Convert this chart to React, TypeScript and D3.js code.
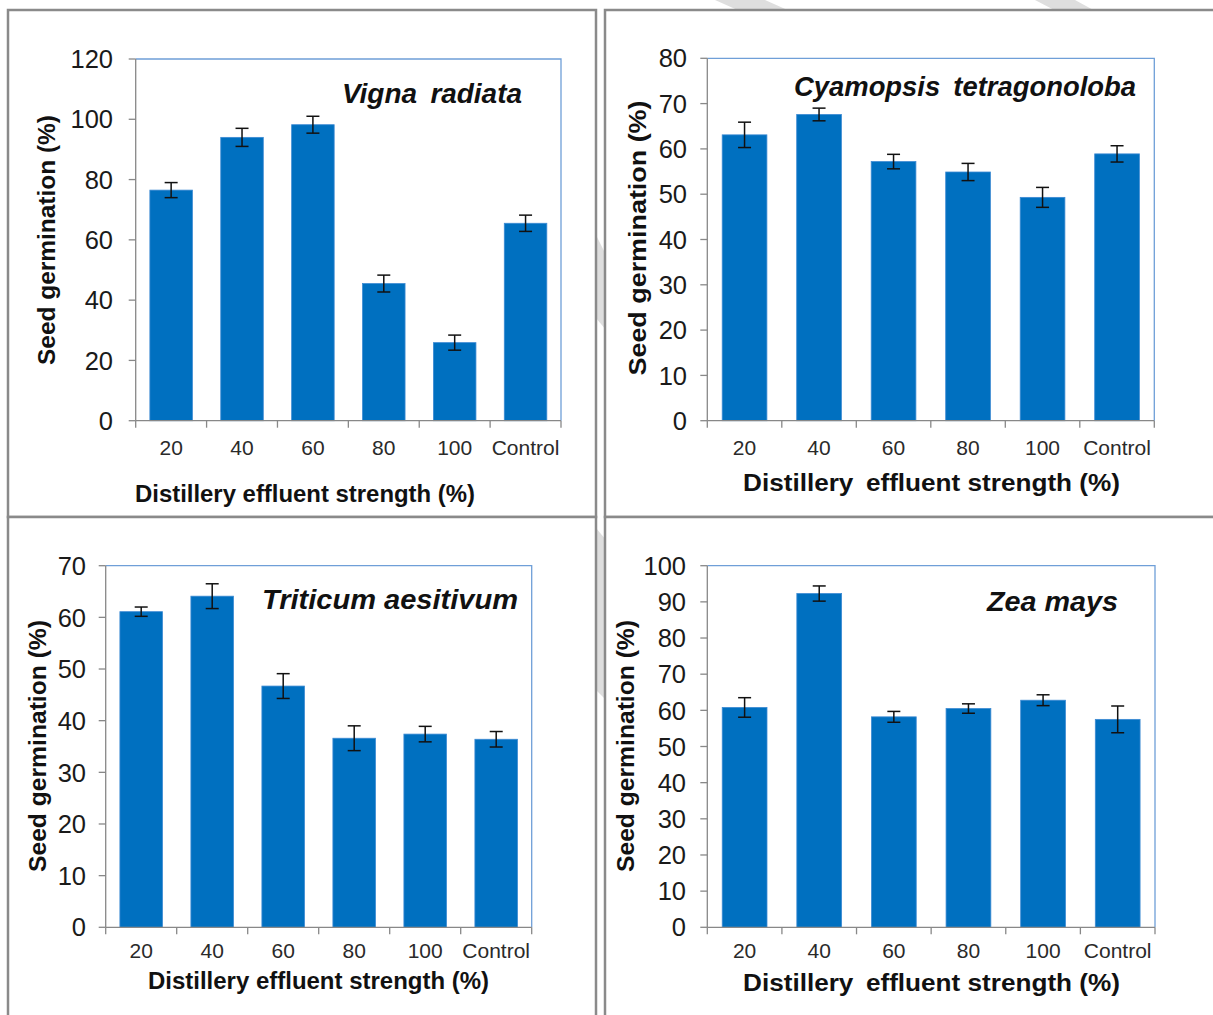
import React from "react";
import * as d3 from "d3";

const categories = ["20", "40", "60", "80", "100", "Control"];

const vignaMeans = [76.5, 94.0, 98.2, 45.5, 25.9, 65.5];
const vignaErr = [2.5, 3.0, 2.8, 2.8, 2.5, 2.7];
const vignaTicks = [0, 20, 40, 60, 80, 100, 120];

const cyamopsisMeans = [63.1, 67.6, 57.2, 54.9, 49.3, 58.9];
const cyamopsisErr = [2.8, 1.4, 1.6, 1.9, 2.2, 1.8];
const cyamopsisTicks = [0, 10, 20, 30, 40, 50, 60, 70, 80];

const triticumMeans = [61.1, 64.1, 46.7, 36.6, 37.4, 36.4];
const triticumErr = [0.9, 2.4, 2.4, 2.4, 1.5, 1.5];
const triticumTicks = [0, 10, 20, 30, 40, 50, 60, 70];

const zeaMeans = [60.8, 92.3, 58.2, 60.5, 62.8, 57.5];
const zeaErr = [2.7, 2.1, 1.5, 1.3, 1.5, 3.7];
const zeaTicks = [0, 10, 20, 30, 40, 50, 60, 70, 80, 90, 100];

const FONT = "'Liberation Sans', Arial, sans-serif";
const BAR = "#0070C0";

type PanelProps = {
  means: number[];
  errs: number[];
  ticks: number[];
  x0: number; x1: number; yTop: number; yBot: number;
  yLabelEnd: number;
  xLabelY: number;
  xTitle: string; xTitleX: number; xTitleY: number; xTitleLen: number;
  yTitleX: number; yTitleY: number; yTitleLen: number;
  species: string; spX: number; spY: number; spLen: number;
};

function Panel(p: PanelProps) {
  const x = d3.scaleBand<string>().domain(categories).range([p.x0, p.x1]).paddingInner(0.4).paddingOuter(0.2);
  const yMax = p.ticks[p.ticks.length - 1];
  const y = d3.scaleLinear().domain([0, yMax]).range([p.yBot, p.yTop]);
  const step = (p.x1 - p.x0) / categories.length;
  const bw = x.bandwidth();
  return (
    <g>
      <path d={`M${p.x0},${p.yTop}H${p.x1}V${p.yBot}`} fill="none" stroke="#6f9fd8" strokeWidth={1.3} />
      {p.means.map((m, i) => (
        <rect key={"b" + i} x={x(categories[i])} y={y(m)} width={bw} height={p.yBot - y(m)}
          fill={BAR} stroke="#3c8ad3" strokeWidth={0.8} />
      ))}
      {p.means.map((m, i) => {
        const cx = (x(categories[i]) as number) + bw / 2;
        const hi = y(m + p.errs[i]);
        const lo = y(m - p.errs[i]);
        return (
          <g key={"e" + i} stroke="#111" strokeWidth={1.5}>
            <line x1={cx} x2={cx} y1={hi} y2={lo} />
            <line x1={cx - 6.5} x2={cx + 6.5} y1={hi} y2={hi} />
            <line x1={cx - 6.5} x2={cx + 6.5} y1={lo} y2={lo} />
          </g>
        );
      })}
      <line x1={p.x0} x2={p.x0} y1={p.yTop} y2={p.yBot} stroke="#888" strokeWidth={1.3} />
      <line x1={p.x0} x2={p.x1} y1={p.yBot} y2={p.yBot} stroke="#888" strokeWidth={1.3} />
      {p.ticks.map((t) => (
        <g key={"yt" + t}>
          <line x1={p.x0 - 7} x2={p.x0} y1={y(t)} y2={y(t)} stroke="#888" strokeWidth={1.3} />
          <text x={p.yLabelEnd} y={y(t)} dy="0.36em" textAnchor="end" fontFamily={FONT} fontSize={25.5} fill="#1a1a1a">{t}</text>
        </g>
      ))}
      {d3.range(categories.length + 1).map((i) => (
        <line key={"xt" + i} x1={p.x0 + i * step} x2={p.x0 + i * step} y1={p.yBot} y2={p.yBot + 7} stroke="#888" strokeWidth={1.3} />
      ))}
      {categories.map((c) => (
        <text key={"xl" + c} x={(x(c) as number) + bw / 2} y={p.xLabelY} textAnchor="middle" fontFamily={FONT} fontSize={21} fill="#2a2a2a">{c}</text>
      ))}
      <text x={p.xTitleX} y={p.xTitleY} fontFamily={FONT} fontWeight="bold" fontSize={23.5} fill="#111"
        textLength={p.xTitleLen} lengthAdjust="spacingAndGlyphs" style={{ whiteSpace: "pre" }}>{p.xTitle}</text>
      <text transform={`translate(${p.yTitleX},${p.yTitleY}) rotate(-90)`} textAnchor="middle" dy="0.36em"
        fontFamily={FONT} fontWeight="bold" fontSize={23.5} fill="#111"
        textLength={p.yTitleLen} lengthAdjust="spacingAndGlyphs">Seed germination (%)</text>
      <text x={p.spX} y={p.spY} fontFamily={FONT} fontWeight="bold" fontStyle="italic" fontSize={28} fill="#111"
        textLength={p.spLen} lengthAdjust="spacingAndGlyphs" style={{ whiteSpace: "pre" }}>{p.species}</text>
    </g>
  );
}

export default function App() {
  const W = 1213, H = 1015;
  const border = "#8a8a8a";
  return (
    <svg width={W} height={H} style={{ position: "absolute", left: 0, top: 0, background: "#fff" }}>
      <g fill="#dedede">
        <polygon points="715,0 765,0 792,12 742,12" />
        <polygon points="1035,0 1075,0 1097,12 1058,12" />
        <polygon points="596,235 606,255 606,330 596,318" />
        <polygon points="596,528 606,540 606,700 596,690" />
      </g>
      <rect x={8} y={10} width={588} height={507} fill="#fff" stroke={border} strokeWidth={2.5} />
      <rect x={605} y={10} width={620} height={507} fill="#fff" stroke={border} strokeWidth={2.5} />
      <rect x={8} y={517} width={588} height={520} fill="#fff" stroke={border} strokeWidth={2.5} />
      <rect x={605} y={517} width={620} height={520} fill="#fff" stroke={border} strokeWidth={2.5} />

      <Panel means={vignaMeans} errs={vignaErr} ticks={vignaTicks}
        x0={135.7} x1={561} yTop={59} yBot={420.7} yLabelEnd={113} xLabelY={455}
        xTitle="Distillery effluent strength (%)" xTitleX={135} xTitleY={502} xTitleLen={340}
        yTitleX={47} yTitleY={240} yTitleLen={250}
        species={"Vigna \u2009radiata"} spX={342} spY={103} spLen={180} />
      <Panel means={cyamopsisMeans} errs={cyamopsisErr} ticks={cyamopsisTicks}
        x0={707.3} x1={1154.3} yTop={58.3} yBot={420.7} yLabelEnd={687} xLabelY={455}
        xTitle={"Distillery \u2009effluent strength (%)"} xTitleX={743} xTitleY={491} xTitleLen={377}
        yTitleX={638} yTitleY={238} yTitleLen={275}
        species={"Cyamopsis \u2009tetragonoloba"} spX={794} spY={96} spLen={342} />
      <Panel means={triticumMeans} errs={triticumErr} ticks={triticumTicks}
        x0={105.7} x1={531.7} yTop={565.7} yBot={927.3} yLabelEnd={86} xLabelY={958}
        xTitle="Distillery effluent strength (%)" xTitleX={148} xTitleY={989} xTitleLen={341}
        yTitleX={38} yTitleY={746} yTitleLen={252}
        species="Triticum aesitivum" spX={262} spY={609} spLen={256} />
      <Panel means={zeaMeans} errs={zeaErr} ticks={zeaTicks}
        x0={707.3} x1={1155} yTop={565.7} yBot={927.3} yLabelEnd={686} xLabelY={958}
        xTitle={"Distillery \u2009effluent strength (%)"} xTitleX={743} xTitleY={991} xTitleLen={377}
        yTitleX={626} yTitleY={746} yTitleLen={252}
        species="Zea mays" spX={987} spY={611} spLen={131} />
    </svg>
  );
}
